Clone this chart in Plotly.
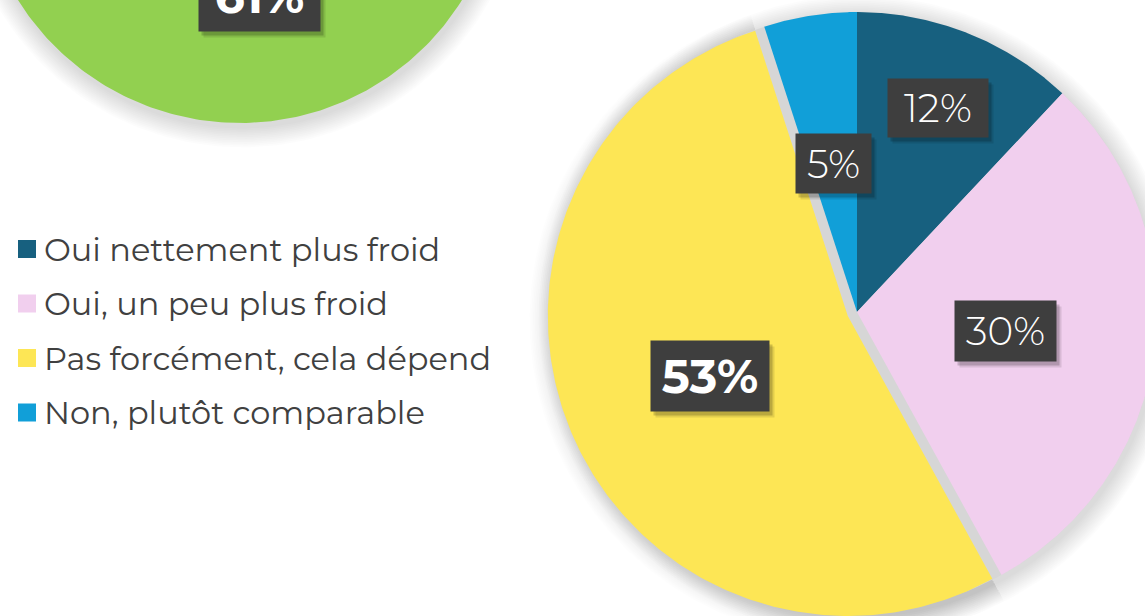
import numpy as np
import plotly.graph_objects as go

# ---------------- data ----------------
categories = ["Oui nettement plus froid", "Oui, un peu plus froid",
              "Pas forcément, cela dépend", "Non, plutôt comparable"]
values = [12, 30, 53, 5]
colors = ["#17607F", "#F1CFEE", "#FDE655", "#119FD8"]
green_value = 61
green_color = "#92D050"

# ---------------- style / layout constants ----------------
W, H = 1145, 616
CX, CY, R = 857, 312, 300           # main pie centre / radius (px)
GX, GY, GR = 240, -139, 262         # partially visible green pie
G_START = 62                        # start angle of green slice (deg, clockwise from top)
pull_px = [0, 0, 10, 0]
label_r = [0.73, 0.50, 0.50, 0.50]
label_box = [(98, 56), (99, 58), (116, 68), (73, 57)]
label_bold = [False, False, True, False]
FONT = "Montserrat, Inter, sans-serif"
BOX = "#3E3E3E"


def sector(cx, cy, r, a0, a1, n=240):
    t = np.radians(np.linspace(a0, a1, n))
    xs = np.concatenate([[cx], cx + r * np.sin(t), [cx]])
    ys = np.concatenate([[cy], cy - r * np.cos(t), [cy]])
    return xs, ys


def poly(xs, ys, color):
    return go.Scatter(x=xs, y=ys, mode="lines", fill="toself", fillcolor=color,
                      line=dict(width=0, color=color), hoverinfo="skip",
                      showlegend=False)


fig = go.Figure()

# ---------- green pie (shadow + slice) ----------
for k in range(12, 0, -1):
    xs, ys = sector(GX + 2, GY + 4, GR + k * 1.7, 0, 360)
    fig.add_trace(poly(xs, ys, "rgba(0,0,0,0.011)"))
g_a0 = G_START
g_a1 = G_START + green_value / 100 * 360
xs, ys = sector(GX, GY, GR, g_a0, g_a1)
fig.add_trace(poly(xs, ys, green_color))

# ---------- main pie ----------
total = sum(values)
bounds = np.concatenate([[0], np.cumsum(values) / total * 360])
offsets = []
for i in range(len(values)):
    mid = np.radians((bounds[i] + bounds[i + 1]) / 2)
    offsets.append((pull_px[i] * np.sin(mid), -pull_px[i] * np.cos(mid)))

# shadows: whole pie + extra for pulled slices
for k in range(12, 0, -1):
    xs, ys = sector(CX + 2, CY + 4, R + k * 1.7, 0, 360)
    fig.add_trace(poly(xs, ys, "rgba(0,0,0,0.011)"))
    for i in range(len(values)):
        if pull_px[i]:
            ox, oy = offsets[i]
            xs, ys = sector(CX + ox + 2, CY + oy + 4, R + k * 1.7,
                            bounds[i], bounds[i + 1])
            fig.add_trace(poly(xs, ys, "rgba(0,0,0,0.006)"))
# grey base visible in the gaps of the exploded slice
xs, ys = sector(CX, CY, R, 0, 360)
fig.add_trace(poly(xs, ys, "#D6D6D6"))

for i in range(len(values)):
    ox, oy = offsets[i]
    xs, ys = sector(CX + ox, CY + oy, R, bounds[i], bounds[i + 1])
    fig.add_trace(poly(xs, ys, colors[i]))

# ---------- data labels ----------
annotations = []


def add_label(x, y, text, w, h, bold, yref="y"):
    size = 47 if bold else 39
    weight = 700 if bold else 300
    for dx, dy, a in [(5, -6, 0.10), (3, -4, 0.18)]:
        annotations.append(dict(x=x, y=y, xref="x", yref=yref, text=" ",
                                showarrow=False, width=w, height=h,
                                xanchor="center", yanchor="middle",
                                bgcolor=f"rgba(0,0,0,{a})", xshift=dx, yshift=dy,
                                font=dict(size=size, family=FONT)))
    annotations.append(dict(x=x, y=y, xref="x", yref=yref, text=text,
                            showarrow=False, width=w, height=h, bgcolor=BOX,
                            xanchor="center", yanchor="middle",
                            font=dict(size=size, family=FONT, color="white",
                                      weight=weight)))


for i, v in enumerate(values):
    mid = np.radians((bounds[i] + bounds[i + 1]) / 2)
    ox, oy = offsets[i]
    lx = CX + ox + label_r[i] * R * np.sin(mid)
    ly = CY + oy - label_r[i] * R * np.cos(mid)
    add_label(lx, ly, f"{v}%", label_box[i][0], label_box[i][1], label_bold[i])

gmid = np.radians((g_a0 + g_a1) / 2)
glx = GX + 0.52 * GR * np.sin(gmid)
gly = GY - 0.52 * GR * np.cos(gmid)
add_label(glx, (H - gly) / H, f"{green_value}%", 119, 68, True, yref="paper")

# ---------- legend ----------
LEG_X, LEG_Y0, LEG_DY = 27, 249, 54.5
leg_y = [LEG_Y0 + i * LEG_DY for i in range(len(categories))]
fig.add_trace(go.Scatter(x=[LEG_X] * len(categories), y=leg_y, mode="markers",
                         marker=dict(symbol="square", size=18, color=colors,
                                     line=dict(width=0)),
                         hoverinfo="skip", showlegend=False))
for i, c in enumerate(categories):
    annotations.append(dict(x=LEG_X + 15, y=leg_y[i], xref="x", yref="y",
                            text=c, showarrow=False, xanchor="left",
                            yanchor="middle",
                            font=dict(size=32, family=FONT, color="#404040")))

fig.update_layout(
    width=W, height=H, autosize=False,
    margin=dict(l=0, r=0, t=0, b=0),
    paper_bgcolor="white", plot_bgcolor="white",
    xaxis=dict(range=[0, W], visible=False, fixedrange=True),
    yaxis=dict(range=[H, 0], visible=False, fixedrange=True),
    showlegend=False, hovermode=False,
    annotations=annotations,
)
fig.write_html("out.html", config={"displayModeBar": False},
               post_script="document.body.style.margin='0';"
                           "document.body.style.overflow='hidden';")
